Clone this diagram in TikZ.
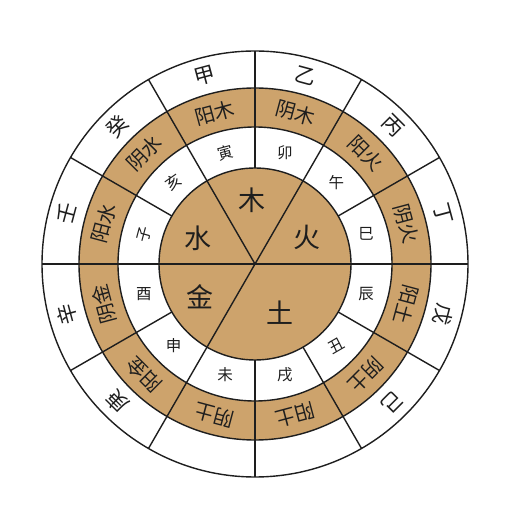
\documentclass[tikz,border=0pt]{standalone}
\usepackage{fontspec}
\setmainfont{Noto Sans CJK SC}
\usetikzlibrary{calc}
\definecolor{ringbrown}{RGB}{205,163,108}
\definecolor{inkc}{RGB}{30,30,30}
\tikzset{
  ringline/.style={draw=inkc,line width=1.4pt},
  stemtext/.style={font=\fontsize{21}{21}\selectfont,text=inkc,inner sep=0pt},
  yytext/.style={font=\fontsize{20}{20}\selectfont,text=inkc,inner sep=0pt},
  branchtext/.style={font=\fontsize{15.5}{15.5}\selectfont,text=inkc,inner sep=0pt},
  elemtext/.style={font=\fontsize{27}{27}\selectfont,text=inkc,inner sep=0pt}
}
\begin{document}
\begin{tikzpicture}[x=1pt,y=1pt]
\useasboundingbox (0,0) rectangle (512,512);
\fill[white] (0,0) rectangle (512,512);
\coordinate (O) at (255,248);
% fills
\fill[ringbrown,even odd rule] (O) circle (176) (O) circle (137);
\fill[ringbrown] (O) circle (96);
% circles
\foreach \r in {213,176,137,96} \draw[ringline] (O) circle (\r);
% radial lines of the rings
\foreach \a in {30,60,90,120,150,210,240,270,300,330}
  \draw[ringline,shift={(O)}] (\a:96) -- (\a:213);
% full horizontal line
\draw[ringline,shift={(O)}] (180:213) -- (0:213);
% inner sector lines
\foreach \a in {60,120,240}
  \draw[ringline,shift={(O)}] (0,0) -- (\a:96);
% heavenly stems
\foreach \a/\t/\n in {105/甲/s1,75/乙/s2,45/丙/s3,15/丁/s4,-15/戊/s5,-45/己/s6,225/庚/s7,195/辛/s8,165/壬/s9,135/癸/s10}
  \node[stemtext,rotate=\a-90] (\n) at ($(O)+(\a:195)$) {\t};
% yin yang ring
\foreach \a/\t/\n in {105/阳木/y1,75/阴木/y2,45/阳火/y3,15/阴火/y4,-15/阳土/y5,-45/阴土/y6,-75/阳土/y7,255/阴土/y8,225/阳金/y9,195/阴金/y10,165/阳水/y11,135/阴水/y12}
  \node[yytext,rotate=\a-90] (\n) at ($(O)+(\a:156.5)$) {\t};
% earthly branches
\foreach \a/\t/\rr/\n in {105/寅/15/b1,75/卯/0/b2,45/午/0/b3,15/巳/0/b4,-15/辰/0/b5,-45/丑/30/b6,-75/戌/0/b7,255/未/0/b8,225/申/0/b9,195/酉/0/b10,165/子/75/b11,135/亥/35/b12}
  \node[branchtext,rotate=\rr] (\n) at ($(O)+(\a:115)$) {\t};
% five elements
\node[elemtext] (e1) at (252,312) {木};
\node[elemtext] (e2) at (307,275) {火};
\node[elemtext] (e3) at (280,199) {土};
\node[elemtext] (e4) at (200,215) {金};
\node[elemtext] (e5) at (198,274) {水};
\end{tikzpicture}
\end{document}
